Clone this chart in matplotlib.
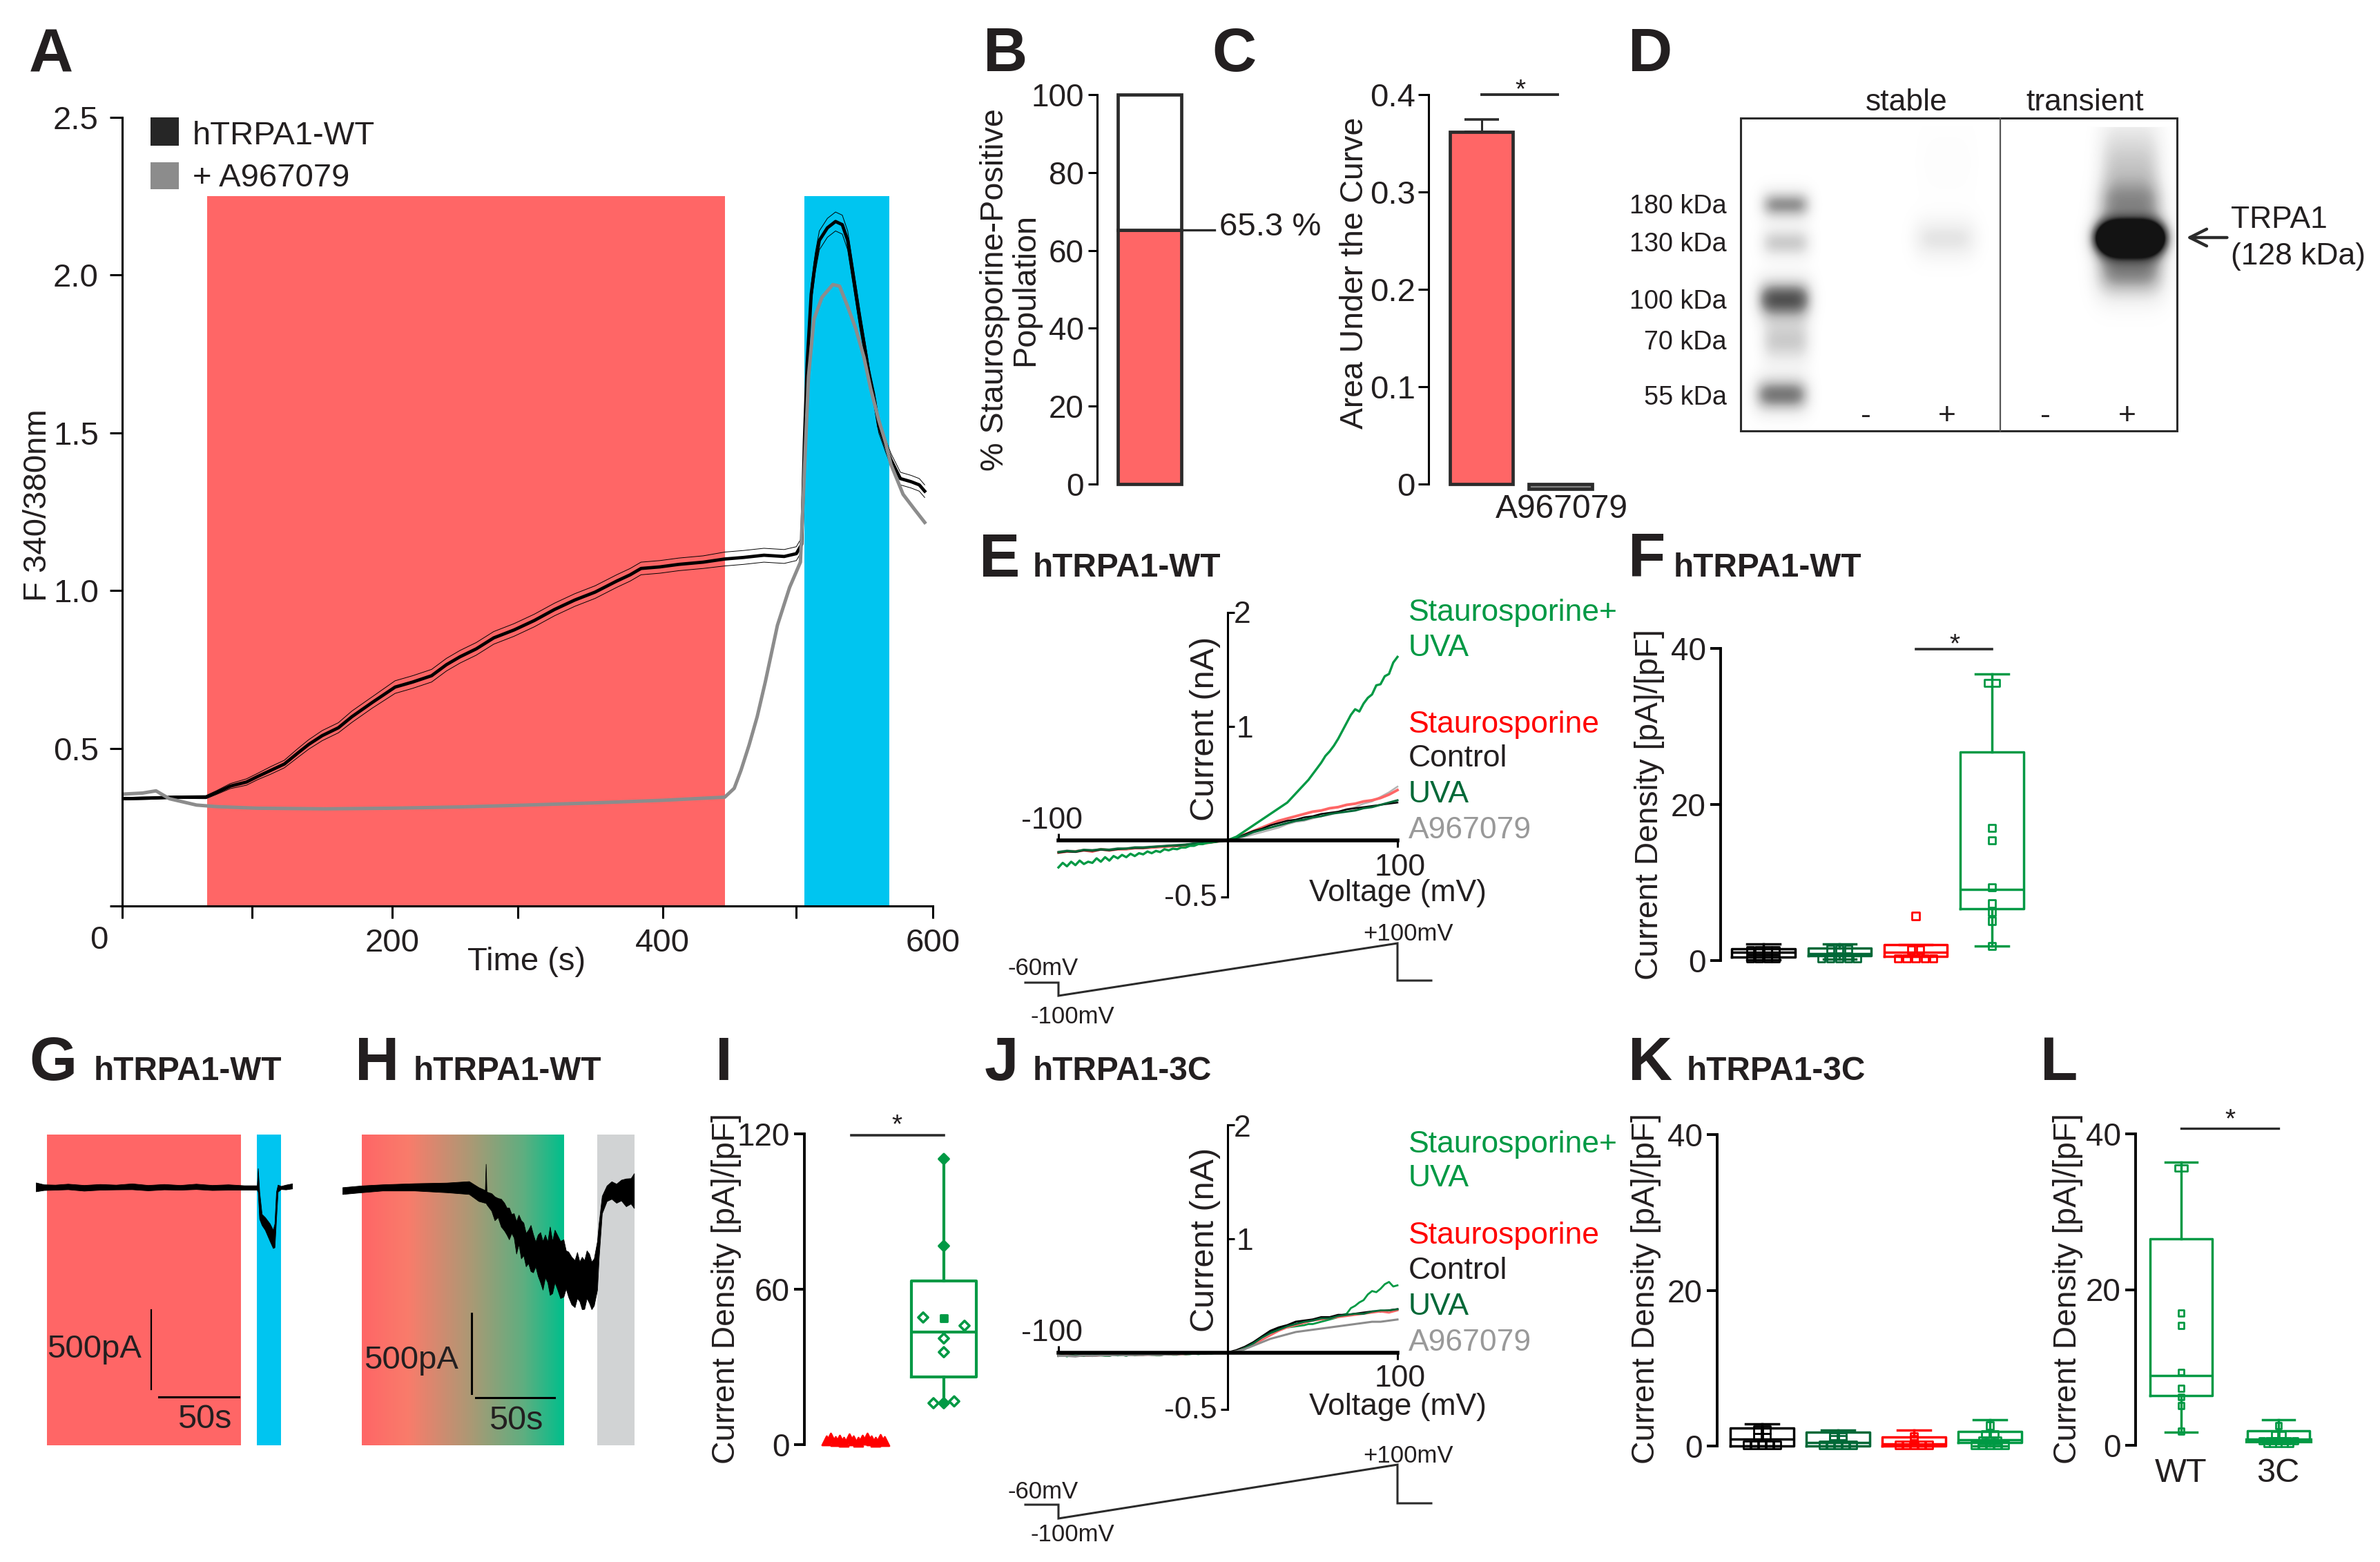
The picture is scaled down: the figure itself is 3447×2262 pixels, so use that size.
import numpy as np
import matplotlib
matplotlib.use("Agg")
import matplotlib.pyplot as plt
from matplotlib.patches import Rectangle
from matplotlib.colors import LinearSegmentedColormap
from matplotlib.lines import TICKUP, TICKRIGHT

plt.rcParams['font.family'] = ['Liberation Sans', 'DejaVu Sans']
W, H = 3448, 2262
INK = '#231f20'
RED = '#FF6666'
BLUE = '#00C5F0'
GREEN = '#009944'
DGREEN = '#006837'
PURE = '#FF0000'
GRAY = '#999999'
EDGE = '#2b2b2b'

# ---------- A: calcium imaging ----------
wt_t = [0, 20, 40, 62, 70, 80, 92, 100, 110, 120, 130, 138, 148, 160, 170, 185, 202, 215, 229, 240, 250, 262, 275, 290,
        305, 320, 335, 350, 366, 376, 384, 398, 412, 430, 446, 460, 475, 490, 499, 503, 505, 507, 510, 513, 516, 522,
        528, 533, 537, 541, 546, 550, 553, 557, 560, 565, 569, 576, 584, 590, 594]
wt_v = [0.34, 0.342, 0.345, 0.345, 0.36, 0.38, 0.393, 0.41, 0.43, 0.45, 0.485, 0.512, 0.54, 0.565, 0.60, 0.645, 0.694,
        0.71, 0.73, 0.765, 0.79, 0.815, 0.85, 0.875, 0.905, 0.94, 0.97, 0.995, 1.03, 1.05, 1.07, 1.075, 1.083, 1.09,
        1.10, 1.105, 1.112, 1.108, 1.117, 1.147, 1.48, 1.72, 1.94, 2.04, 2.11, 2.15, 2.17, 2.16, 2.11, 2.0, 1.86, 1.76,
        1.68, 1.6, 1.52, 1.46, 1.415, 1.355, 1.345, 1.335, 1.315]
wt_sem = [0.004, 0.004, 0.004, 0.005, 0.006, 0.008, 0.01, 0.01, 0.012, 0.012, 0.014, 0.015, 0.016, 0.016, 0.018, 0.018,
          0.02, 0.02, 0.02, 0.02, 0.02, 0.02, 0.02, 0.02, 0.02, 0.02, 0.02, 0.02, 0.02, 0.02, 0.02, 0.02, 0.02, 0.02,
          0.022, 0.022, 0.022, 0.022, 0.022, 0.022, 0.025, 0.03, 0.03, 0.03, 0.03, 0.03, 0.03, 0.03, 0.03, 0.03, 0.03,
          0.025, 0.025, 0.025, 0.02, 0.02, 0.02, 0.02, 0.02, 0.02, 0.02]
ag_t = [2, 15, 25, 35, 45, 55, 70, 100, 150, 200, 250, 300, 350, 400, 446, 453, 458, 464, 470, 476, 485, 494, 502, 504,
        508, 512, 518, 526, 531, 537, 543, 549, 554, 560, 565, 569, 578, 586, 594]
ag_v = [0.355, 0.358, 0.365, 0.34, 0.33, 0.32, 0.315, 0.31, 0.308, 0.31, 0.314, 0.32, 0.327, 0.335, 0.345, 0.373, 0.43,
        0.51, 0.60, 0.71, 0.89, 1.01, 1.09, 1.285, 1.68, 1.86, 1.93, 1.97, 1.965, 1.90, 1.83, 1.74, 1.64, 1.54, 1.47,
        1.40, 1.305, 1.26, 1.216]
STAURO_SPAN = (63, 446)
UVA_SPAN = (505, 568)
SPAN_TOP = 2.25
A_TICKS = [0, 96, 200, 293, 400, 499, 600]
A_TICKLABELS = ['', '', '200', '', '400', '', '600']
A_YTICKS = [0, 0.5, 1.0, 1.5, 2.0, 2.5]
A_YLABELS = ['', '0.5', '1.0', '1.5', '2.0', '2.5']

# ---------- B, C ----------
B_POSITIVE = 65.3
B_TOTAL = 100
C_LABELS = ['', 'A967079']
C_VALUES = [0.362, -0.005]
C_ERR = 0.0125

# ---------- D: blot (x, y, sx, sy, darkness) ----------
BLOT_BANDS = [(2586, 296, 30, 14, 0.55), (2586, 351, 30, 15, 0.33), (2584, 433, 33, 19, 0.80), (2586, 493, 30, 22, 0.33),
              (2580, 571, 33, 17, 0.65), (2817, 345, 38, 20, 0.20), (2820, 235, 34, 38, 0.02),
              (3085, 344, 43, 17, 2.2), (3085, 248, 38, 50, 0.36), (3085, 295, 42, 22, 0.35), (3085, 392, 42, 26, 0.60)]
BLOT_LABELS = ['180 kDa', '130 kDa', '100 kDa', '70 kDa', '55 kDa']

# ---------- E, J: I-V ----------
volt = [-100, -95, -90, -85, -80, -75, -70, -65, -60, -55, -50, -45, -40, -35, -30, -25, -20, -15, -10, -5, 0,
        5, 10, 15, 20, 25, 30, 35, 40, 45, 50, 55, 60, 65, 70, 75, 80, 85, 90, 95, 100]
volt_fine = [-100, -97.5, -95, -92.5, -90, -87.5, -85, -82.5, -80, -77.5, -75, -72.5, -70, -67.5, -65, -62.5, -60, -57.5, -55, -52.5,
             -50, -47.5, -45, -42.5, -40, -37.5, -35, -32.5, -30, -27.5, -25, -22.5, -20, -17.5, -15, -12.5, -10, -7.5, -5, -2.5, 0,
             2.5, 5, 7.5, 10, 12.5, 15, 17.5, 20, 22.5, 25, 27.5, 30, 32.5, 35, 37.5, 40, 42.5, 45, 47.5,
             50, 52.5, 55, 57.5, 60, 62.5, 65, 67.5, 70, 72.5, 75, 77.5, 80, 82.5, 85, 87.5, 90, 92.5, 95, 97.5, 100]
e_su = [-.24, -.20, -.23, -.19, -.22, -.18, -.21, -.19, -.20, -.16, -.19, -.15, -.18, -.14, -.16, -.13, -.15, -.12, -.14, -.115,
        -.125, -.10, -.115, -.095, -.105, -.08, -.09, -.075, -.08, -.065, -.065, -.05, -.05, -.035, -.035, -.025, -.02, -.015, -.01, -.005, 0,
        .015, .03, .055, .08, .105, .13, .155, .18, .205, .23, .255, .28, .305, .33, .37, .41, .45, .49, .53,
        .58, .63, .68, .74, .78, .83, .89, .96, 1.03, 1.10, 1.15, 1.13, 1.20, 1.25, 1.28, 1.36, 1.37, 1.44, 1.46, 1.56, 1.61]
e_st = [-.11, -.10, -.10, -.09, -.10, -.08, -.09, -.08, -.08, -.07, -.07, -.065, -.06, -.055, -.05, -.045, -.035, -.03, -.02, -.01, 0,
        .02, .05, .08, .11, .14, .17, .19, .21, .23, .25, .26, .28, .29, .31, .32, .34, .35, .37, .40, .44]
e_co = [-.11, -.10, -.105, -.09, -.095, -.085, -.09, -.08, -.075, -.07, -.07, -.06, -.055, -.05, -.05, -.04, -.03, -.025, -.02, -.01, 0,
        .02, .05, .08, .10, .13, .15, .17, .18, .20, .21, .23, .24, .25, .27, .28, .29, .30, .31, .32, .33]
e_uv = [-.105, -.095, -.10, -.085, -.09, -.08, -.085, -.075, -.075, -.065, -.065, -.06, -.055, -.05, -.045, -.04, -.03, -.025, -.02, -.01, 0,
        .02, .04, .07, .09, .11, .13, .15, .17, .18, .20, .21, .23, .24, .25, .26, .28, .29, .31, .33, .35]
e_ag = [-.10, -.09, -.095, -.085, -.085, -.08, -.08, -.07, -.07, -.06, -.06, -.055, -.05, -.045, -.04, -.035, -.03, -.02, -.015, -.01, 0,
        .01, .03, .05, .07, .09, .11, .14, .16, .17, .19, .21, .22, .25, .27, .29, .32, .34, .38, .42, .47]
j_su = [-.03, -.02, -.035, -.02, -.03, -.025, -.03, -.02, -.03, -.02, -.025, -.03, -.03, -.02, -.025, -.02, -.03, -.015, -.025, -.02,
        -.02, -.015, -.02, -.025, -.025, -.015, -.015, -.02, -.02, -.01, -.015, -.015, -.01, -.015, -.01, -.005, -.01, -.005, -.005, -.005, 0,
        .005, .01, .02, .03, .055, .08, .11, .14, .16, .18, .20, .21, .215, .22, .225, .23, .235, .24, .25,
        .25, .26, .27, .28, .29, .30, .31, .33, .34, .39, .41, .44, .46, .51, .54, .53, .56, .60, .62, .58, .59]
j_st = [-.03, -.025, -.03, -.025, -.03, -.025, -.025, -.02, -.025, -.02, -.02, -.02, -.02, -.015, -.015, -.015, -.01, -.01, -.005, -.005, 0,
        .01, .04, .07, .11, .15, .19, .22, .24, .26, .28, .29, .30, .31, .32, .33, .34, .35, .36, .35, .37]
j_co = [-.03, -.025, -.03, -.025, -.03, -.02, -.025, -.02, -.02, -.02, -.02, -.015, -.02, -.015, -.015, -.01, -.01, -.01, -.005, -.005, 0,
        .02, .05, .09, .14, .19, .22, .24, .27, .28, .29, .31, .31, .33, .33, .34, .35, .36, .36, .37, .38]
j_uv = [-.03, -.03, -.03, -.025, -.025, -.025, -.02, -.025, -.02, -.02, -.015, -.02, -.015, -.015, -.01, -.015, -.01, -.01, -.005, -.005, 0,
        .01, .04, .08, .13, .17, .20, .23, .25, .27, .28, .30, .30, .32, .33, .34, .34, .36, .37, .37, .38]
j_ag = [-.03, -.03, -.035, -.025, -.03, -.025, -.025, -.02, -.025, -.02, -.02, -.02, -.02, -.015, -.015, -.01, -.01, -.01, -.005, -.005, 0,
        .01, .03, .06, .09, .12, .14, .16, .18, .19, .20, .21, .22, .23, .24, .25, .26, .27, .27, .28, .29]
IV_LEGEND = ['Staurosporine+', 'UVA', 'Staurosporine', 'Control', 'UVA', 'A967079']
IV_COLORS = [GREEN, GREEN, PURE, INK, DGREEN, GRAY]

# ---------- F, K, L, I: box plots ----------
f_stats = [dict(q1=.475, med=1.05, q3=1.52, whislo=.1, whishi=2.15),
           dict(q1=.66, med=.89, q3=1.6, whislo=.2, whishi=2.15),
           dict(q1=.57, med=1.05, q3=2.06, whislo=.57, whishi=2.06),
           dict(q1=6.6, med=9.1, q3=26.7, whislo=1.84, whishi=36.7)]
f_colors = ['black', DGREEN, PURE, GREEN]
f_pts_x = [[-.17, -.06, .06, .16, -.17, -.06, .06, .16],
           [-.12, 0, .115, -.24, -.12, 0, .115, .23],
           [0, -.06, .06, -.23, -.12, 0, .12, .23],
           [-.05, .05, 0, 0, 0, 0, 0, 0, 0]]
f_pts_y = [[1.3, 1.3, 1.3, 1.3, .25, .25, .25, .25],
           [1.45, 1.45, 1.45, .3, .3, .3, .3, .3],
           [5.7, 1.36, 1.36, .25, .25, .25, .25, .25],
           [35.6, 35.6, 17, 15.4, 9.4, 7.3, 6.2, 5.1, 1.85]]
k_stats = [dict(q1=0, med=.89, q3=2.28, whislo=0, whishi=2.8),
           dict(q1=0, med=.45, q3=1.79, whislo=0, whishi=2.05),
           dict(q1=0, med=.27, q3=1.16, whislo=0, whishi=2.05),
           dict(q1=.45, med=.8, q3=1.83, whislo=0, whishi=3.35)]
k_pts_x = [[-.06, .06, -.06, .06, -.2, -.1, 0, .1, .2],
           [-.06, .06, -.06, .06, -.2, -.1, 0, .1, .2],
           [0, 0, -.2, -.1, 0, .1, .2],
           [0, -.06, .06, -.1, 0, .1, -.2, -.1, 0, .1, .2]]
k_pts_y = [[2.1, 2.1, 1.15, 1.15, .13, .13, .13, .13, .13],
           [1.25, 1.25, .9, .9, .13, .13, .13, .13, .13],
           [1.25, .9, .13, .13, .13, .13, .13],
           [2.6, 1.5, 1.5, .7, .7, .7, .13, .13, .13, .13, .13]]
l_labels = ['WT', '3C']
l_stats = [dict(q1=6.4, med=9.0, q3=26.5, whislo=1.7, whishi=36.4),
           dict(q1=.6, med=.65, q3=1.87, whislo=.27, whishi=3.3)]
l_pts_x = [[-.03, .03, 0, 0, 0, 0, 0, 0, 0],
           [0, -.04, .04, -.17, -.1, -.03, .03, .1, .17, -.12, -.06, 0, .06, .12]]
l_pts_y = [[35.6, 35.6, 17, 15.4, 9.4, 7.3, 6.2, 5.1, 1.85],
           [2.5, 1.4, 1.4, .6, .6, .6, .6, .6, .6, .2, .2, .2, .2, .2]]
i_stats = [dict(q1=26.2, med=43.5, q3=63.1, whislo=16, whishi=110.3)]
i_red_x = [-.33, -.28, -.23, -.18, -.13, -.07, -.02, .03, .08, .13, .18, .23, .28, .33]
i_red_y = [1.6, 2.6, 1.4, 1.8, 1.2, 2.4, 1.5, 1.2, 1.9, 2.8, 1.5, 1.2, 2.2, 1.3]
i_pts_x = [0, 0, -.234, .234, 0, 0, -.117, 0, .117]
i_pts_y = [110.3, 76.7, 49.1, 45.9, 41, 35.7, 16, 16, 16.7]
i_mean_y = [48.8]

# ---------- G, H: current traces, envelope in s / pA ----------
g_t = [0, 5, 12, 20, 30, 40, 50, 60, 70, 80, 90, 100, 110, 120, 130, 138, 138.6, 139.5, 141, 143, 146, 148, 149, 150, 151, 153, 156, 160]
g_hi = [28, 16, 14, 20, 12, 18, 14, 22, 12, 18, 12, 20, 12, 16, 10, 10, 118, -30, -170, -190, -230, -270, -230, -30, 14, 6, 14, 22]
g_lo = [-28, -20, -18, -15, -24, -18, -16, -15, -22, -16, -18, -14, -20, -18, -18, -18, -30, -200, -240, -270, -340, -385, -380, -200, -30, -14, -16, -10]
h_t = [0, 12, 25, 45, 65, 79, 85, 89, 89.5, 90, 93, 95, 97, 99, 101, 102.5, 104, 105.5, 107, 108.5, 110, 111.5, 113, 114.5, 116,
       117.5, 119, 120.5, 122, 123.5, 125, 126.5, 128, 129.5, 131, 132.5, 134, 136, 138, 139.5, 141, 143, 145, 146.5, 148,
       149.5, 151, 152.5, 154, 155.5, 157, 159, 160, 162, 165, 168, 171, 174, 177, 180, 182]
h_hi = [-2, 9, 16, 23, 27, 36, -2, -20, 145, -30, -40, -60, -70, -75, -100, -130, -130, -170, -166, -215, -175, -210, -225, -290, -270,
        -240, -297, -345, -300, -285, -341, -300, -345, -250, -341, -270, -300, -340, -330, -400, -407, -440, -461, -410, -470,
        -440, -461, -400, -420, -470, -450, -341, -231, -56, 9, 35, 20, 45, 53, 55, 86]
h_lo = [-45, -34, -23, -23, -34, -45, -89, -100, -100, -110, -150, -210, -190, -250, -275, -300, -330, -290, -319, -420, -360, -450, -430, -500, -480,
        -530, -538, -500, -560, -600, -647, -570, -600, -680, -669, -600, -640, -700, -691, -640, -691, -740, -757, -700, -720,
        -770, -768, -700, -730, -770, -746, -647, -450, -166, -89, -75, -100, -85, -122, -105, -133]
H_STOPS = [(0, '#FF6666'), (.23, '#F97C6B'), (.55, '#A89A75'), (.8, '#5FAE80'), (1, '#00BF8C')]

# ---------- helpers ----------
fig = plt.figure(figsize=(W / 200, H / 200), dpi=200)


def panel(l, t, r, b):
    a = fig.add_axes([l / W, 1 - b / H, (r - l) / W, (b - t) / H])
    a.patch.set_alpha(0)
    for s in ('top', 'right'):
        a.spines[s].set_visible(False)
    return a


ov = fig.add_axes([0, 0, 1, 1], zorder=20)
ov.patch.set_alpha(0)
ov.axis('off')


def T(x, y, s, size=16, color=INK, ha='center', va='center', rotation=0, **kw):
    if rotation == 0 and va == 'center':
        y = y + 3
    ov.text(x, y, s, fontsize=size, color=color, ha=ha, va=va, rotation=rotation, **kw)


def letter(x, base, s):
    T(x, base, s, size=32, weight='bold', ha='left', va='baseline')


def sub(x, base, s):
    T(x, base, s, size=17.2, weight='bold', ha='left', va='baseline')


def style_y(a, lw=1.4, length=15, pad=6, size=16.5):
    a.spines['left'].set_linewidth(lw)
    a.spines['bottom'].set_visible(False)
    a.tick_params(axis='y', width=lw, length=length * .36, pad=pad * .36, labelsize=size, labelcolor=INK)
    a.set_xticks([])


def box_panel(a, stats, colors, pts_x, pts_y, width, capw=.43, lw=1.25, mark='s', ms=14, start=1):
    for i, (st, c) in enumerate(zip(stats, colors)):
        p = dict(color=c, linewidth=lw)
        arts = a.bxp([dict(st, fliers=[])], positions=[i + start], widths=width, capwidths=capw, showfliers=False,
                     boxprops=p, whiskerprops=p, capprops=p, medianprops=p, manage_ticks=False)
        for group in arts.values():
            for art in group:
                art.set_clip_on(False)
        if len(pts_x[i]):
            a.scatter(np.array(pts_x[i]) + i + start, pts_y[i], marker=mark, s=ms, facecolors='none', edgecolors=c,
                      linewidths=1.0, clip_on=False, zorder=4)


# ---------- panel A ----------
axA = panel(177, 170, 1351, 1312)
axA.set_xlim(0, 600)
axA.set_ylim(0, 2.5)
axA.add_patch(Rectangle((STAURO_SPAN[0], 0), STAURO_SPAN[1] - STAURO_SPAN[0], SPAN_TOP, fc=RED, ec='none'))
axA.add_patch(Rectangle((UVA_SPAN[0], 0), UVA_SPAN[1] - UVA_SPAN[0], SPAN_TOP, fc=BLUE, ec='none'))
wtv, wts = np.array(wt_v), np.array(wt_sem)
axA.plot(wt_t, wtv + wts, color='black', lw=.35)
axA.plot(wt_t, wtv - wts, color='black', lw=.35)
axA.plot(wt_t, wt_v, color='black', lw=1.7)
axA.plot(ag_t, ag_v, color='#8c8c8c', lw=1.8)
axA.spines['left'].set_linewidth(1.1)
axA.spines['bottom'].set_linewidth(1.1)
axA.set_xticks(A_TICKS, A_TICKLABELS)
axA.set_yticks(A_YTICKS, A_YLABELS)
axA.tick_params(axis='both', width=1.1, length=6.5, labelsize=17, labelcolor=INK)
axA.tick_params(axis='y', pad=5.8)
axA.tick_params(axis='x', pad=5)
T(143, 1359, '0', size=17)
T(763, 1390, 'Time (s)', size=17)
T(55, 732, 'F 340/380nm', size=17, rotation=90)
ov.add_patch(Rectangle((218, 170), 41, 41, fc='#262626', ec='none'))
ov.add_patch(Rectangle((218, 235), 41, 39, fc='#8c8c8c', ec='none'))
T(279, 194, 'hTRPA1-WT', size=17, ha='left')
T(279, 255, '+ A967079', size=17, ha='left')
letter(42, 104, 'A')

# ---------- panel B ----------
axB = panel(1589, 137, 1740, 701)
axB.set_xlim(0, 151 / 92)
axB.set_ylim(0, 100)
barx = 76 / 92
axB.bar(barx, B_POSITIVE, width=1, color=RED, edgecolor=EDGE, linewidth=1.7, clip_on=False)
axB.bar(barx, B_TOTAL - B_POSITIVE, bottom=B_POSITIVE, width=1, color='white', edgecolor=EDGE, linewidth=1.7, clip_on=False)
style_y(axB, lw=1.1, length=13, pad=6, size=16.5)
axB.set_yticks([0, 20, 40, 60, 80, 100])
axB.plot([barx + .5, barx + .5 + 48 / 92], [B_POSITIVE] * 2, color=EDGE, lw=1.2, clip_on=False)
T(1766, 326, '65.3 %', size=17, ha='left')
T(1463, 420, '% Staurosporine-Positive\nPopulation', size=16.85, rotation=90, linespacing=1.0, ma='center')
letter(1424, 103, 'B')

# ---------- panel C ----------
axC = panel(2069, 137, 2330, 701)
axC.set_xlim(.33, 2.61)
axC.set_ylim(0, .4)
axC.errorbar([1], [C_VALUES[0]], yerr=[[0], [C_ERR]], color=EDGE, capsize=9, lw=1.1, capthick=1.3, clip_on=False, zorder=1)
axC.bar([1, 2], C_VALUES, width=.8, color=[RED, '#808080'], edgecolor=EDGE, linewidth=1.7, clip_on=False, zorder=2)
style_y(axC, lw=1.1, length=15, pad=4, size=17)
axC.set_yticks([0, .1, .2, .3, .4], ['0', '0.1', '0.2', '0.3', '0.4'])
axC.plot([1, 1.96], [.4, .4], color=EDGE, lw=1.4, clip_on=False)
T(2202, 128, '*', size=14)
T(2262, 734, C_LABELS[1], size=17.3)
T(1962, 395, 'Area Under the Curve', size=16.7, rotation=90)
letter(1755, 103, 'C')

# ---------- panel D ----------
X, Y = np.meshgrid(np.arange(2521, 3153, 1.0), np.arange(171, 624, 1.0))
blot = np.zeros_like(X)
for bx, by, sx, sy, amp in BLOT_BANDS:
    blot += amp * np.exp(-.5 * ((X - bx) / sx) ** 4 - .5 * ((Y - by) / sy) ** 2)
blot[Y < 184] = 0
ov.imshow(np.clip(blot, 0, 1) * .93, extent=(2521, 3153, 624, 171), cmap='Greys', vmin=0, vmax=1, aspect='auto', zorder=0)
ov.set_xlim(0, W)
ov.set_ylim(H, 0)
ov.add_patch(Rectangle((2521, 171), 632, 453, fc='none', ec=EDGE, lw=1.1, zorder=2))
ov.plot([2897, 2897], [171, 624], color='#555555', lw=.8, zorder=2)
for lab, yy in zip(BLOT_LABELS, [296, 351, 434, 493, 573]):
    T(2501, yy, lab, size=13.6, ha='right')
T(2761, 145, 'stable')
T(3020, 145, 'transient')
T(3231, 315, 'TRPA1', size=16, ha='left')
T(3231, 368, '(128 kDa)', size=16, ha='left')
ov.annotate('', xy=(3161, 344), xytext=(3231, 344), arrowprops=dict(arrowstyle='->', color=EDGE, lw=1.6, mutation_scale=22))
for xx, s in zip([2702, 2820, 2962, 3081], ['-', '+', '-', '+']):
    T(xx, 599, s)
letter(2358, 103, 'D')


# ---------- panels E, J ----------
def iv_panel(top, bottom, curves, legend_y, ticks_y, ramp_y, lab_y, volt_y, cur_y, axis_w):
    a = panel(1533, top, 2024, bottom)
    a.set_xlim(-100, 100)
    a.set_ylim(-.5, 2)
    for vx, v, c, lw in curves:
        a.plot(vx, v, color=c, lw=lw, clip_on=False)
    a.spines['left'].set_position(('data', 0))
    a.spines['bottom'].set_position(('data', 0))
    a.spines['left'].set_linewidth(1.1)
    a.spines['bottom'].set_linewidth(axis_w)
    a.set_xticks([-100, 100], ['', ''])
    a.set_yticks([2, 1, -.5], ['', '', ''])
    a.tick_params(axis='both', width=1.1, length=3.5)
    xt = a.xaxis.get_major_ticks()
    xt[0].tick1line.set_marker(TICKUP)
    for i in (0, 1):
        a.yaxis.get_major_ticks()[i].tick1line.set_marker(TICKRIGHT)
    for s, yy, col in zip(IV_LEGEND, legend_y, IV_COLORS):
        T(2040, yy, s, color=col, ha='left')
    T(1524, ticks_y[0], '-100')
    T(2028, ticks_y[1], '100')
    T(1799, ticks_y[2], '2')
    T(1803, ticks_y[3], '1')
    T(1763, ticks_y[4], '-0.5', ha='right')
    T(2024, volt_y, 'Voltage (mV)')
    T(1746, cur_y, 'Current (nA)', size=17.5, rotation=90)
    ov.plot([1485, 1533, 1533, 2024, 2024, 2073], ramp_y, color=EDGE, lw=1.1, solid_joinstyle='miter')
    T(1511, lab_y[0], '-60mV', size=12.5)
    T(1553, lab_y[1], '-100mV', size=12.5)
    T(2040, lab_y[2], '+100mV', size=12.5)


iv_panel(887, 1299, [(volt, e_ag, '#b3b3b3', .9), (volt, e_st, RED, 1.4), (volt, e_co, 'black', .9), (volt, e_uv, DGREEN, 1.1), (volt_fine, e_su, GREEN, 1.2)],
         [884, 935, 1046, 1095, 1148, 1200], [1185, 1253, 888, 1053, 1298], [1423, 1423, 1442, 1366, 1420, 1420],
         [1400, 1470, 1349], 1290, 1055, 2.0)
iv_panel(1629, 2041, [(volt_fine, j_su, GREEN, 1.0), (volt, j_co, 'black', 1.1), (volt, j_st, RED, 1.0), (volt, j_uv, DGREEN, 1.0), (volt, j_ag, '#8c8c8c', 1.1)],
         [1654, 1704, 1787, 1838, 1889, 1941], [1927, 1993, 1631, 1796, 2039], [2179, 2179, 2199, 2121, 2177, 2177],
         [2158, 2219, 2105], 2034, 1795, 2.0)
letter(1418, 835, 'E')
sub(1496, 835, 'hTRPA1-WT')
letter(1426, 1564, 'J')
sub(1496, 1564, 'hTRPA1-3C')

# ---------- panel F ----------
axF = panel(2492, 939, 2960, 1391)
axF.set_xlim(1 - 62 / 110.3, 1 + 406 / 110.3)
axF.set_ylim(0, 40)
box_panel(axF, f_stats, f_colors, f_pts_x, f_pts_y, .83)
style_y(axF)
axF.set_yticks([0, 20, 40])
axF.plot([3, 4], [39.9, 39.9], color=EDGE, lw=1.3, clip_on=False)
T(2831, 931, '*', size=14)
T(2389, 1165, 'Current Density [pA]/[pF]', size=16.6, rotation=90)
letter(2358, 835, 'F')
sub(2424, 835, 'hTRPA1-WT')

# ---------- panel G ----------
axG = panel(52, 1643, 425, 2093)
axG.set_xlim(0, 373 / 2.32)
axG.set_ylim(-1626, 330)
axG.axis('off')
axG.add_patch(Rectangle((7, -1626), 121, 1956, fc=RED, ec='none'))
axG.add_patch(Rectangle((138, -1626), 15, 1956, fc=BLUE, ec='none'))
axG.fill_between(g_t, g_lo, g_hi, color='black', lw=.3)
ov.plot([219, 219], [1897, 2012], color='black', lw=.8)
ov.plot([230, 346], [2023, 2023], color='black', lw=1.1)
T(137, 1951, '500pA', size=17)
T(296, 2053, '50s', size=17.5)
letter(42, 1564, 'G')
sub(136, 1564, 'hTRPA1-WT')

# ---------- panel H ----------
axH = panel(496, 1643, 919, 2093)
axH.set_xlim(0, 423 / 2.32)
axH.set_ylim(-1626, 330)
axH.axis('off')
cm = LinearSegmentedColormap.from_list('h', H_STOPS)
axH.imshow(np.linspace(0, 1, 256)[None, :], extent=(12, 138, -1626, 330), cmap=cm, aspect='auto')
axH.set_xlim(0, 423 / 2.32)
axH.set_ylim(-1626, 330)
axH.add_patch(Rectangle((159, -1626), 23.5, 1956, fc='#D1D3D4', ec='none'))
axH.fill_between(h_t, h_lo, h_hi, color='black', lw=.3)
ov.plot([683, 683], [1902, 2018], color='black', lw=1.1)
ov.plot([689, 803], [2024, 2024], color='black', lw=1.1)
T(596, 1967, '500pA', size=17)
T(747, 2055, '50s', size=17.5)
letter(514, 1564, 'H')
sub(599, 1564, 'hTRPA1-WT')

# ---------- panel I ----------
axI = panel(1165, 1642, 1440, 2092)
axI.set_xlim(1 - 74 / 128, 1 + 201 / 128)
axI.set_ylim(0, 120)
axI.scatter(1 + np.array(i_red_x), i_red_y, marker='^', s=22, color=PURE, clip_on=False, zorder=3)
box_panel(axI, i_stats, [GREEN], [[]], [[]], .73, capw=0, lw=1.5, start=2)
axI.scatter(2 + np.array(i_pts_x), i_pts_y, marker='D', s=13, facecolors=[GREEN, GREEN, 'none', 'none', 'none', 'none', 'none', GREEN, 'none'],
            edgecolors=GREEN, linewidths=1.3, clip_on=False, zorder=4)
axI.scatter([2], i_mean_y, marker='s', s=12, color=GREEN, clip_on=False, zorder=4)
style_y(axI)
axI.set_yticks([0, 60, 120])
ov.plot([1233, 1367], [1644, 1644], color=EDGE, lw=1.3)
T(1299, 1627, '*', size=14)
T(1052, 1866, 'Current Density [pA]/[pF]', size=16.6, rotation=90)
letter(1036, 1564, 'I')

# ---------- panel K ----------
axK = panel(2487, 1643, 2960, 2094)
axK.set_xlim(1 - 65 / 110, 1 + 408 / 110)
axK.set_ylim(0, 40)
box_panel(axK, k_stats, f_colors, k_pts_x, k_pts_y, .83)
style_y(axK)
axK.set_yticks([0, 20, 40])
T(2384, 1866, 'Current Density [pA]/[pF]', size=16.6, rotation=90)
letter(2358, 1564, 'K')
sub(2443, 1564, 'hTRPA1-3C')

# ---------- panel L ----------
axL = panel(3093, 1642, 3440, 2093)
axL.set_xlim(1 - 66 / 141, 1 + 281 / 141)
axL.set_ylim(0, 40)
box_panel(axL, l_stats, [GREEN, GREEN], l_pts_x, l_pts_y, .645, capw=.33, ms=10)
axL.plot([2 - .322, 2 + .322], [l_stats[1]['q1']] * 2, color=GREEN, lw=2.6, clip_on=False, zorder=5)
style_y(axL)
axL.set_yticks([0, 20, 40])
axL.plot([1, 2], [40.7, 40.7], color=EDGE, lw=1.2, clip_on=False)
T(3230, 1619, '*', size=14)
T(3159, 2131, l_labels[0], size=17.5)
T(3299, 2131, l_labels[1], size=17.5)
T(2995, 1866, 'Current Density [pA]/[pF]', size=16.6, rotation=90)
letter(2955, 1564, 'L')

ov.set_xlim(0, W)
ov.set_ylim(H, 0)
fig.savefig('out.png', dpi=200)
